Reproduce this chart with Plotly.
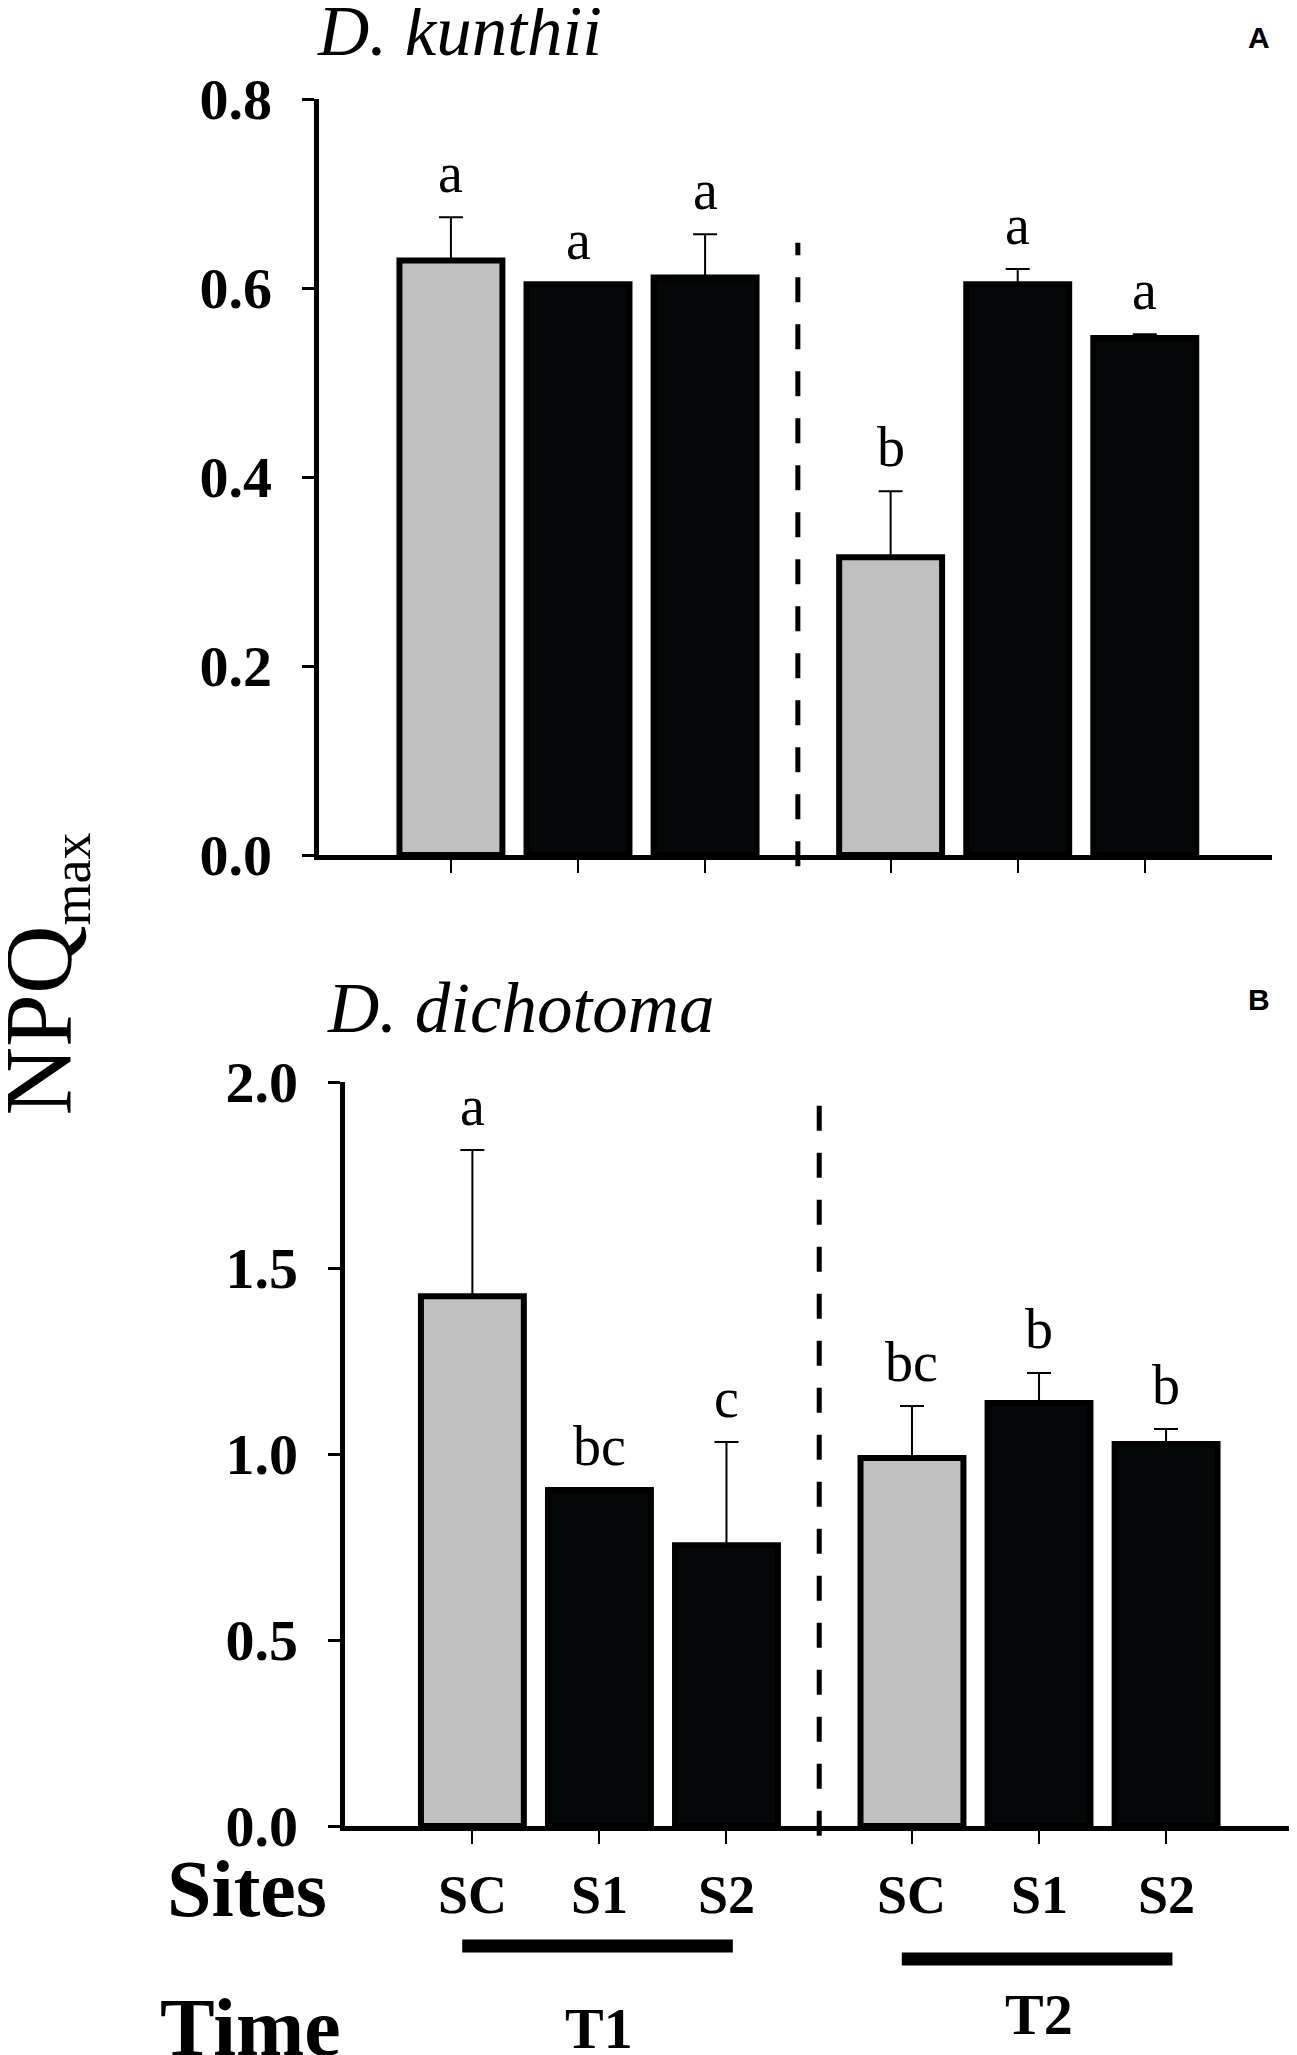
import plotly.graph_objects as go

# ---------------- data ----------------
sites = ["SC", "S1", "S2", "SC", "S1", "S2"]
times = ["T1", "T1", "T1", "T2", "T2", "T2"]

kunthii_mean = [0.629, 0.604, 0.611, 0.315, 0.604, 0.547]
kunthii_se = [0.046, 0.0, 0.046, 0.070, 0.016, 0.004]
kunthii_letters = ["a", "a", "a", "b", "a", "a"]

dichotoma_mean = [1.424, 0.903, 0.755, 0.989, 1.137, 1.027]
dichotoma_se = [0.393, 0.0, 0.277, 0.140, 0.081, 0.040]
dichotoma_letters = ["a", "bc", "c", "bc", "b", "b"]

y_ticks_a = [0.0, 0.2, 0.4, 0.6, 0.8]
y_ticks_b = [0.0, 0.5, 1.0, 1.5, 2.0]

# ---------------- layout helpers ----------------
GROUP_GAP = 1.46
x_pos = []
for i, t in enumerate(times):
    grp = 0 if t == "T1" else 1
    x_pos.append((i % 3) + grp * GROUP_GAP + grp * 2)
sep_x = (x_pos[2] + x_pos[3]) / 2

GREY = "#c0c0c0"
BLACK = "#050808"
colors = [GREY if s == "SC" else BLACK for s in sites]

SERIF = "Liberation Serif"
W, H = 1297, 2055
OFF_Y = 7   # page offset compensation (pixels)
OFF_X = 4


def py(p):
    """paper y fraction for a target pixel row (from top)."""
    return 1 - (p - OFF_Y) / H


def px(p):
    return (p - OFF_X) / W


fig = go.Figure()


def bar_trace(means, ses, xa, ya):
    return go.Bar(
        x=x_pos, y=means, xaxis=xa, yaxis=ya, width=0.81,
        marker=dict(color=colors, line=dict(color="black", width=6)),
        error_y=dict(type="data", symmetric=False, array=ses,
                     arrayminus=[0] * len(ses), color="black",
                     thickness=2, width=12),
        showlegend=False, hoverinfo="skip",
    )


fig.add_trace(bar_trace(kunthii_mean, kunthii_se, "x", "y"))
fig.add_trace(bar_trace(dichotoma_mean, dichotoma_se, "x2", "y2"))

axis_common = dict(showline=True, linecolor="black", linewidth=5,
                   showgrid=False, zeroline=False, ticks="outside",
                   tickcolor="black", automargin=False)

fig.update_layout(
    template="none",
    width=W, height=H,
    margin=dict(l=0, r=0, t=0, b=0, pad=0, autoexpand=False),
    paper_bgcolor="white", plot_bgcolor="white",
    xaxis=dict(domain=[px(314.5), px(1268)], range=[-1.042, 6.461], anchor="y",
               tickvals=x_pos, showticklabels=False, ticklen=13, tickwidth=2,
               **axis_common),
    yaxis=dict(domain=[py(854), py(98)], range=[0, 0.8], anchor="x",
               tickvals=y_ticks_a, ticktext=[f"{v:.1f}" for v in y_ticks_a],
               ticklen=12, tickwidth=3, ticklabelstandoff=18,
               tickfont=dict(family=SERIF, size=58, color="black", weight="bold"),
               **axis_common),
    xaxis2=dict(domain=[px(340.7), px(1297)], range=[-1.005, 6.522], anchor="y2",
                tickvals=x_pos, showticklabels=False, ticklen=13, tickwidth=2,
                **axis_common),
    yaxis2=dict(domain=[py(1825), py(1081)], range=[0, 2.0], anchor="x2",
                tickvals=y_ticks_b, ticktext=[f"{v:.1f}" for v in y_ticks_b],
                ticklen=12, tickwidth=3, ticklabelstandoff=18,
                tickfont=dict(family=SERIF, size=58, color="black", weight="bold"),
                **axis_common),
)

shapes = []
# dashed separators
shapes.append(dict(type="line", xref="x", yref="y domain", x0=sep_x, x1=sep_x,
                   y0=-0.015, y1=0.81,
                   line=dict(color="black", width=5, dash="25px,22px")))
shapes.append(dict(type="line", xref="x2", yref="y2 domain", x0=sep_x, x1=sep_x,
                   y0=-0.013, y1=0.982,
                   line=dict(color="black", width=5, dash="25px,22px")))
# time group bars under site labels
group_line_y = {"T1": py(1945), "T2": py(1958)}
for t in ["T1", "T2"]:
    xs = [x for x, tt in zip(x_pos, times) if tt == t]
    shapes.append(dict(type="line", xref="x2", yref="paper",
                       x0=min(xs) - 0.08, x1=max(xs) + 0.05,
                       y0=group_line_y[t], y1=group_line_y[t],
                       line=dict(color="black", width=13)))
fig.update_layout(shapes=shapes)

ann = []
# significance letters
for xs, m, s, l, xr, yr in [(x_pos, kunthii_mean, kunthii_se, kunthii_letters, "x", "y"),
                            (x_pos, dichotoma_mean, dichotoma_se, dichotoma_letters, "x2", "y2")]:
    for xi, mi, si, li in zip(xs, m, s, l):
        ann.append(dict(x=xi, y=mi + si, xref=xr, yref=yr, text=li,
                        showarrow=False, yanchor="bottom", yshift=11,
                        font=dict(family=SERIF, size=56, color="black")))


def txt(text, x_px, y_px, size, xanchor="center", bold=False, italic=False,
        family=SERIF, **kw):
    if bold:
        text = f"<b>{text}</b>"
    if italic:
        text = f"<i>{text}</i>"
    return dict(x=x_px / W, y=py(y_px), xref="paper", yref="paper", text=text,
                showarrow=False, xanchor=xanchor, yanchor="middle",
                font=dict(family=family, size=size, color="black"), **kw)


# panel titles (y = visual centre of the line box)
ann.append(txt("D. kunthii", 307, 30, 71, xanchor="left", italic=True))
ann.append(txt("D. dichotoma", 317, 1007, 71, xanchor="left", italic=True))
# panel letters
ann.append(txt("A", 1251, 37, 30, bold=True, family="Liberation Sans"))
ann.append(txt("B", 1251, 998, 30, bold=True, family="Liberation Sans"))
# y title
ann.append(dict(x=-24 / W, y=py(973), xref="paper", yref="paper",
                text='NPQ<sub><span style="font-size:54px">max</span></sub>',
                textangle=-90, showarrow=False, xanchor="left", yanchor="middle",
                font=dict(family=SERIF, size=95, color="black")))
# site labels
ann.append(txt("Sites", 157, 1888, 80, xanchor="left", bold=True))
for xi, s in zip(x_pos, sites):
    ann.append(dict(x=xi, y=py(1894), xref="x2", yref="paper", text=f"<b>{s}</b>",
                    showarrow=False, yanchor="middle",
                    font=dict(family=SERIF, size=54, color="black")))
# time labels
ann.append(txt("Time", 150, 2026, 82, xanchor="left", bold=True))
time_label_py = {"T1": 2027, "T2": 2013}
for t in ["T1", "T2"]:
    xs = [x for x, tt in zip(x_pos, times) if tt == t]
    ann.append(dict(x=sum(xs) / len(xs), y=py(time_label_py[t]), xref="x2",
                    yref="paper", text=f"<b>{t}</b>", showarrow=False,
                    yanchor="middle",
                    font=dict(family=SERIF, size=58, color="black")))
fig.update_layout(annotations=ann)

fig.write_html("out.html")
